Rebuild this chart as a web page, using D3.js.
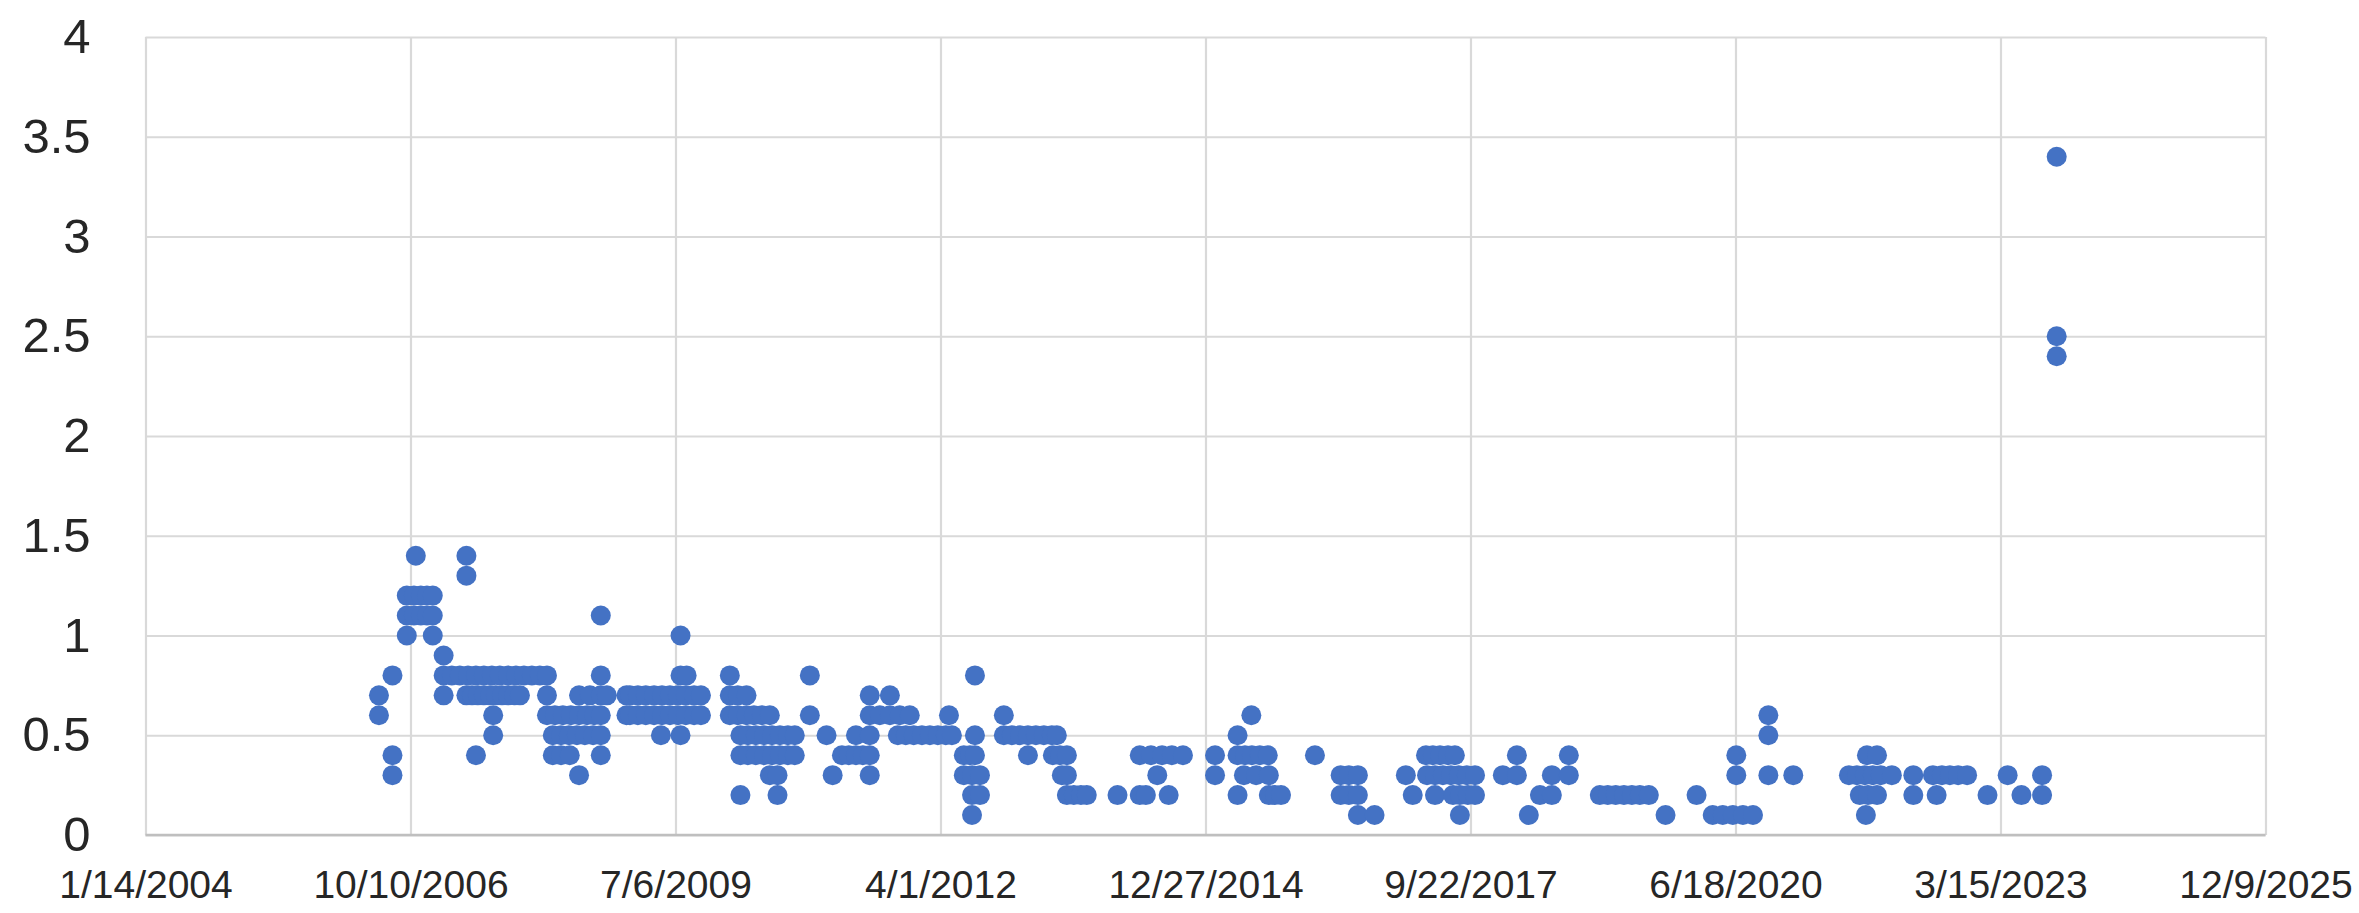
<!DOCTYPE html>
<html>
<head>
<meta charset="utf-8">
<script src="https://cdn.jsdelivr.net/npm/d3@7"></script>
<style>
  html, body { margin: 0; padding: 0; background: #fff; }
  svg { display: block; }
  .tick text { font-family: 'Liberation Sans', Arial, sans-serif; fill: #262626; }
  .axis.x .tick text { font-size: 39px; }
  .axis.y .tick text { font-size: 49px; }
</style>
</head>
<body>
<div class="scatter-chart"></div>
<script>
// Axis ticks (the x ticks are 1000 days apart)
const xTickDates = ['2004-01-14', '2006-10-10', '2009-07-06', '2012-04-01', '2014-12-27', '2017-09-22', '2020-06-18', '2023-03-15', '2025-12-09']
const yTicks = [0, 0.5, 1, 1.5, 2, 2.5, 3, 3.5, 4]

// Observation dates, one line per year
const obsDates = [
  '2006-06-13', '2006-08-03', '2006-09-26', '2006-10-23', '2006-10-30', '2006-11-18', '2006-12-11',
  '2007-01-02', '2007-02-12', '2007-03-15', '2007-04-14', '2007-05-09', '2007-05-15', '2007-05-30', '2007-06-14', '2007-06-21', '2007-07-14', '2007-08-06', '2007-08-13', '2007-08-18', '2007-08-28', '2007-09-12', '2007-09-20', '2007-10-13', '2007-11-05', '2007-11-12', '2007-11-27', '2007-12-12',
  '2008-01-11', '2008-02-10', '2008-03-08', '2008-03-30', '2008-04-07', '2008-04-30', '2008-05-07', '2008-05-30', '2008-06-02', '2008-06-06', '2008-06-29', '2008-07-07', '2008-07-29', '2008-08-06', '2008-08-17', '2008-08-29', '2008-09-02', '2008-09-27', '2008-10-20',
  '2009-01-02', '2009-01-15', '2009-02-14', '2009-03-16', '2009-04-16', '2009-05-12', '2009-05-16', '2009-06-15', '2009-07-15', '2009-07-25', '2009-08-14', '2009-08-17', '2009-09-14', '2009-10-10',
  '2010-01-27', '2010-02-26', '2010-03-08', '2010-03-31', '2010-04-05', '2010-04-28', '2010-05-05', '2010-05-28', '2010-06-05', '2010-06-27', '2010-07-05', '2010-07-26', '2010-08-04', '2010-09-03', '2010-09-29', '2010-11-25',
  '2011-01-27', '2011-02-19', '2011-03-26', '2011-04-21', '2011-05-18', '2011-06-13', '2011-07-09', '2011-08-16', '2011-09-23', '2011-10-23', '2011-10-30', '2011-11-22', '2011-12-07', '2011-12-22',
  '2012-01-22', '2012-02-21', '2012-03-22', '2012-04-21', '2012-05-03', '2012-05-14', '2012-06-28', '2012-07-21', '2012-07-29', '2012-08-09', '2012-08-28', '2012-11-26', '2012-12-26',
  '2013-01-26', '2013-02-25', '2013-03-27', '2013-04-26', '2013-05-26', '2013-05-30', '2013-06-14', '2013-06-26', '2013-07-03', '2013-07-22', '2013-08-17', '2013-09-13', '2013-10-05',
  '2014-01-29', '2014-04-23', '2014-05-16', '2014-06-04', '2014-06-28', '2014-07-16', '2014-08-10', '2014-08-22', '2014-10-03',
  '2015-02-01', '2015-04-27', '2015-05-21', '2015-05-25', '2015-06-18', '2015-06-20', '2015-07-06', '2015-07-20', '2015-08-19', '2015-08-23', '2015-09-15', '2015-10-08',
  '2016-02-13', '2016-05-20', '2016-06-20', '2016-07-24', '2016-09-25',
  '2017-01-21', '2017-02-16', '2017-04-07', '2017-04-11', '2017-05-03', '2017-05-11', '2017-05-30', '2017-06-10', '2017-06-29', '2017-07-10', '2017-07-18', '2017-07-25', '2017-08-09', '2017-08-13', '2017-09-08', '2017-09-12', '2017-10-09',
  '2018-01-22', '2018-03-16', '2018-04-30', '2018-06-11', '2018-07-26', '2018-09-28',
  '2019-01-23', '2019-02-22', '2019-03-24', '2019-04-24', '2019-05-24', '2019-06-23', '2019-07-27', '2019-09-28',
  '2020-01-23', '2020-03-24', '2020-05-01', '2020-06-08', '2020-06-21', '2020-07-16', '2020-08-23', '2020-10-20',
  '2021-01-22', '2021-08-20', '2021-09-19', '2021-09-30', '2021-10-19', '2021-10-23', '2021-10-27', '2021-10-31', '2021-11-18', '2021-12-04', '2021-12-18',
  '2022-01-29', '2022-04-20', '2022-07-03', '2022-07-17', '2022-08-06', '2022-09-05', '2022-10-06', '2022-11-09',
  '2023-01-25', '2023-04-11', '2023-06-02', '2023-08-19', '2023-10-13'
]

// Values recorded on each date (same order as obsDates)
const obsValues = [
  [0.7, 0.6], [0.8, 0.4, 0.3], [1.2, 1.1, 1.0], [1.2, 1.1], [1.4], [1.2, 1.1], [1.2, 1.1],
  [1.2, 1.1, 1.0], [0.9, 0.8, 0.7], [0.8], [0.8], [1.4, 1.3, 0.7], [0.8], [0.7], [0.8, 0.4], [0.7], [0.8, 0.7], [0.7], [0.8], [0.6, 0.5], [0.7], [0.8], [0.7], [0.8, 0.7], [0.7], [0.8], [0.7], [0.8],
  [0.8], [0.8], [0.8, 0.7, 0.6], [0.5, 0.4], [0.6], [0.5, 0.4], [0.6], [0.5], [0.4], [0.6], [0.5], [0.7, 0.6, 0.3], [0.5], [0.6], [0.7], [0.5], [0.6], [1.1, 0.8, 0.7, 0.6, 0.5, 0.4], [0.7],
  [0.7, 0.6], [0.7, 0.6], [0.7, 0.6], [0.7, 0.6], [0.7, 0.6], [0.5], [0.7, 0.6], [0.7, 0.6], [0.7, 0.6], [1.0, 0.8, 0.5], [0.7, 0.6], [0.8], [0.7, 0.6], [0.7, 0.6],
  [0.8, 0.7, 0.6], [0.7, 0.6], [0.5, 0.4, 0.2], [0.7, 0.6], [0.5, 0.4], [0.6], [0.5, 0.4], [0.6], [0.5, 0.4], [0.6, 0.3], [0.5, 0.4], [0.3, 0.2], [0.5, 0.4], [0.5, 0.4], [0.5, 0.4], [0.8, 0.6],
  [0.5], [0.3], [0.4], [0.4], [0.5, 0.4], [0.4], [0.7, 0.6, 0.5, 0.4, 0.3], [0.6], [0.7, 0.6], [0.5], [0.6], [0.5], [0.6], [0.5],
  [0.5], [0.5], [0.5], [0.5], [0.6], [0.5], [0.4, 0.3], [0.4], [0.3, 0.2, 0.1], [0.8, 0.5, 0.4], [0.3, 0.2], [0.6, 0.5], [0.5],
  [0.5], [0.5, 0.4], [0.5], [0.5], [0.5], [0.4], [0.5], [0.4], [0.3], [0.4, 0.3, 0.2], [0.2], [0.2], [0.2],
  [0.2], [0.4, 0.2], [0.2], [0.4], [0.3], [0.4], [0.2], [0.4], [0.4],
  [0.4, 0.3], [0.5, 0.4, 0.2], [0.3], [0.4], [0.6], [0.4], [0.3], [0.4], [0.4], [0.3, 0.2], [0.2], [0.2],
  [0.4], [0.3, 0.2], [0.3, 0.2], [0.3, 0.2, 0.1], [0.1],
  [0.3], [0.2], [0.4], [0.3], [0.4], [0.3, 0.2], [0.4], [0.3], [0.4], [0.3], [0.2], [0.4], [0.3], [0.2, 0.1], [0.3], [0.2], [0.3, 0.2],
  [0.3], [0.4, 0.3], [0.1], [0.2], [0.3, 0.2], [0.4, 0.3],
  [0.2], [0.2], [0.2], [0.2], [0.2], [0.2], [0.2], [0.1],
  [0.2], [0.1], [0.1], [0.1], [0.4, 0.3], [0.1], [0.1], [0.6, 0.5, 0.3],
  [0.3], [0.3], [0.3], [0.2], [0.3], [0.1], [0.4], [0.2], [0.3], [0.4, 0.2], [0.3],
  [0.3], [0.3, 0.2], [0.3], [0.2], [0.3], [0.3], [0.3], [0.3],
  [0.2], [0.3], [0.2], [0.3, 0.2], [3.4, 2.5, 2.4]
]

;(function () {
  /** * ------------------ Set Up ------------------ ***/
  const fullW = 2359
  const fullH = 913
  const margin = { top: 37, right: 93.5, bottom: 78, left: 145.5 }
  const w = fullW - margin.left - margin.right
  const h = fullH - margin.top - margin.bottom

  const parseDate = d3.timeParse('%Y-%m-%d')

  // one point per recorded value
  const points = []
  obsDates.forEach((d, i) => {
    obsValues[i].forEach(v => points.push({ date: parseDate(d), value: v }))
  })

  const xTicks = xTickDates.map(parseDate)

  /** * ------------------ Scales ------------------ ***/
  const x = d3.scaleTime()
    .domain([xTicks[0], xTicks[xTicks.length - 1]])
    .range([0, w])

  const y = d3.scaleLinear()
    .domain([0, 4])
    .range([h, 0])

  /** * ------------------ SVG ------------------ ***/
  const svg = d3.select('.scatter-chart').append('svg')
    .attr('width', fullW)
    .attr('height', fullH)

  svg.append('rect')
    .attr('width', fullW)
    .attr('height', fullH)
    .attr('fill', '#fff')

  const chart = svg.append('g')
    .attr('transform', translation(margin.left, margin.top))

  /** * ------------------ Axes / grid ------------------ ***/
  chart.append('g')
    .attr('class', 'axis y')
    .call(d3.axisLeft(y)
      .tickValues(yTicks)
      .tickSize(-w)
      .tickPadding(55)
      .tickFormat(d3.format('~g')))
    .call(g => g.select('.domain').remove())
    .call(g => g.selectAll('.tick line')
      .attr('stroke', '#d9d9d9')
      .attr('stroke-width', 2.2))

  chart.append('g')
    .attr('class', 'axis x')
    .attr('transform', translation(0, h))
    .call(d3.axisBottom(x)
      .tickValues(xTicks)
      .tickSize(-h)
      .tickPadding(35)
      .tickFormat(d3.timeFormat('%-m/%-d/%Y')))
    .call(g => g.select('.domain').remove())
    .call(g => g.selectAll('.tick line')
      .attr('stroke', '#d9d9d9')
      .attr('stroke-width', 2.2))

  // horizontal axis line
  chart.append('line')
    .attr('x1', 0)
    .attr('x2', w)
    .attr('y1', y(0))
    .attr('y2', y(0))
    .attr('stroke', '#bfbfbf')
    .attr('stroke-width', 2.4)

  /** * ------------------ Points ------------------ ***/
  chart.append('g')
    .selectAll('circle')
    .data(points)
    .enter().append('circle')
    .attr('cx', d => x(d.date))
    .attr('cy', d => y(d.value))
    .attr('r', 10)
    .attr('fill', '#4472c4')

  function translation (tx, ty) {
    return 'translate(' + tx + ',' + ty + ')'
  }
}())
</script>
</body>
</html>
